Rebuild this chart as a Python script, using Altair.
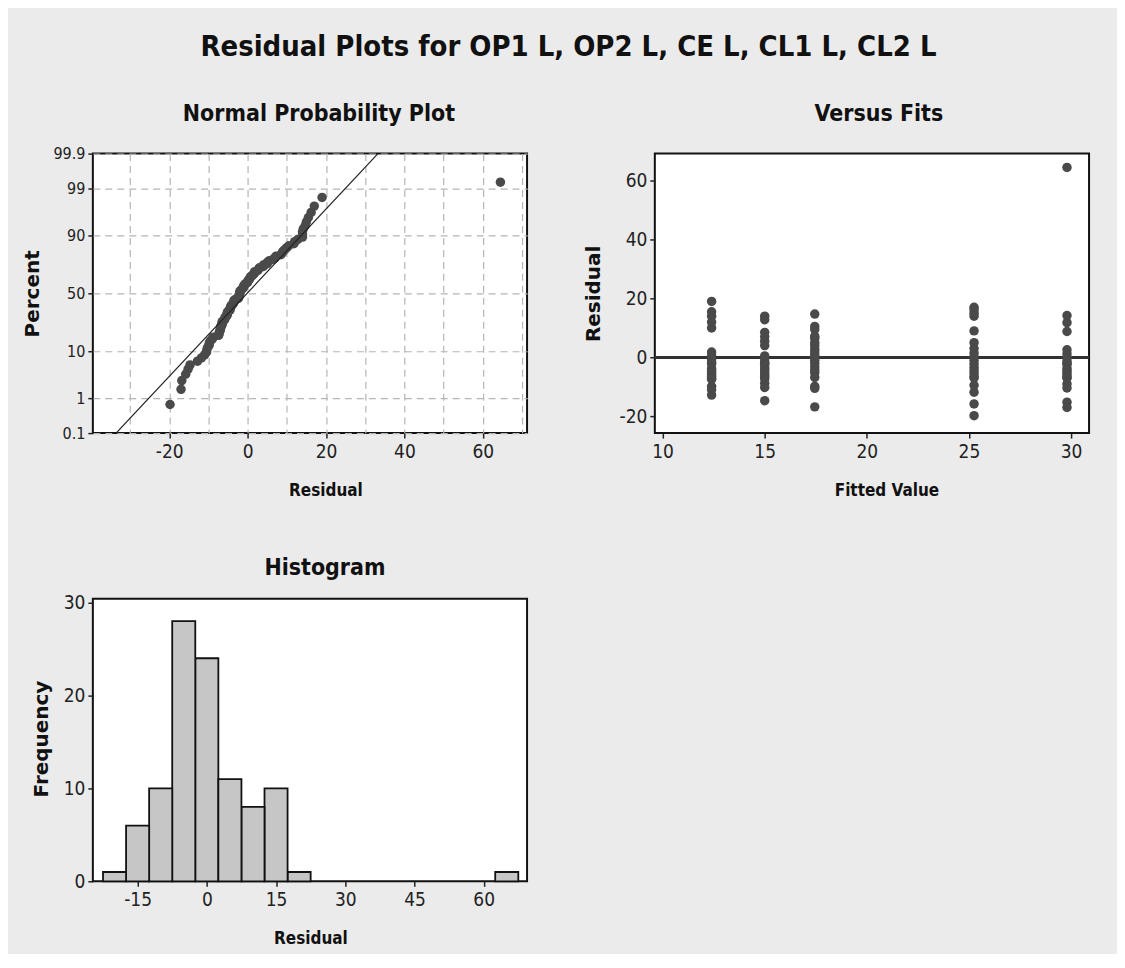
import altair as alt
import pandas as pd
from statistics import NormalDist

# ---------------- data ----------------
MAIN_TITLE = "Residual Plots for OP1 L, OP2 L, CE L, CL1 L, CL2 L"

fitted_levels = [12.4, 15.0, 17.45, 25.25, 29.8]

resid_fit1 = [19.0, 15.5, 14.0, 12.0, 10.0, 1.8, 0.6, -0.8, -1.8, -2.2,
              -3.8, -4.5, -5.2, -5.8, -6.5, -7.2, -7.4, -9.8, -11.0, -12.8]
resid_fit2 = [14.0, 12.8, 8.5, 7.0, 5.5, 4.0, 0.5, -0.5, -1.5, -2.0,
              -2.4, -3.5, -4.2, -5.0, -5.8, -6.5, -7.3, -8.8, -10.2, -14.7]
resid_fit3 = [14.7, 10.5, 9.5, 7.2, 6.5, 5.0, 4.0, 2.8, 1.8, 0.8,
              0.0, -1.0, -2.0, -3.2, -4.2, -5.2, -6.8, -9.8, -10.5, -16.8]
resid_fit4 = [17.0, 16.2, 15.0, 14.0, 9.0, 5.0, 3.0, 1.5, 0.2, -1.0,
              -2.2, -3.5, -4.5, -5.5, -6.5, -7.0, -9.5, -11.8, -15.8, -19.8]
resid_fit5 = [64.5, 14.2, 11.8, 8.8, 2.6, 1.2, 0.0, -1.2, -2.0, -2.3,
              -3.6, -4.4, -5.2, -6.0, -6.8, -7.0, -9.0, -10.4, -15.2, -17.0]

percent_ticks = [0.1, 1, 10, 50, 90, 99, 99.9]
npp_x_grid = [-30, -20, -10, 0, 10, 20, 30, 40, 50, 60, 70]
fits_x_ticks = [10, 15, 20, 25, 30]
fits_y_ticks = [-20, 0, 20, 40, 60]
hist_x_ticks = [-15, 0, 15, 30, 45, 60]
hist_y_ticks = [0, 10, 20, 30]

groups = [resid_fit1, resid_fit2, resid_fit3, resid_fit4, resid_fit5]
rows = []
for f, g in zip(fitted_levels, groups):
    for r in g:
        rows.append({"fit": f, "resid": r})
df = pd.DataFrame(rows)

nd = NormalDist()
z_ticks = [nd.inv_cdf(p / 100.0) for p in percent_ticks]
z_lo, z_hi = z_ticks[0], z_ticks[-1]

# ---------------- styling ----------------
NARROW = "DejaVu Sans Condensed, Liberation Sans Narrow, DejaVu Sans, sans-serif"
WIDE_BOLD = "DejaVu Sans, Verdana, sans-serif"
PT_COLOR = "#4a4a4a"
W, H = 435, 280
HYPHEN = "replace(datum.label, '\u2212', '-')"


def xaxis(title, values, title_x, title_y=58, **kw):
    kw.setdefault("grid", False)
    kw.setdefault("labelExpr", HYPHEN)
    return alt.Axis(title=title, values=values, titleX=title_x, titleY=title_y,
                    titleBaseline="middle", titleFont=NARROW, titleFontSize=17,
                    titleFontWeight="bold", titleColor="#111",
                    labelFont=NARROW, labelFontSize=19, labelColor="#222",
                    labelPadding=4, tickSize=5, tickWidth=1.5, tickColor="#222",
                    domain=False, labelFlush=False, labelOverlap=False, **kw)


def yaxis(title, values, title_x, label_size=19, **kw):
    kw.setdefault("grid", False)
    kw.setdefault("labelExpr", HYPHEN)
    return alt.Axis(title=title, values=values, titleX=title_x, titleY=H / 2,
                    titleAngle=270, titleBaseline="middle", titleFont=WIDE_BOLD,
                    titleFontSize=20, titleFontWeight="bold", titleColor="#111",
                    labelFont=NARROW, labelFontSize=label_size, labelColor="#222",
                    labelPadding=3, tickSize=5, tickWidth=1.5, tickColor="#222",
                    domain=False, labelFlush=False, labelOverlap=False, **kw)


def sub_title(text, dx, offset):
    return alt.TitleParams(text, font=NARROW, fontSize=23, fontWeight="bold",
                           color="#111", anchor="middle", dx=dx, offset=offset)


# ---------------- Normal probability plot ----------------
npp_x_scale = alt.Scale(domain=[-39.5, 71.3], nice=False, zero=False)
npp_y_scale = alt.Scale(domain=[z_lo, z_hi], nice=False, zero=False)
npp_x_axis = xaxis("Residual", npp_x_grid, 233, grid=True, gridDash=[7, 5],
                   gridColor="#b5b5b5", gridWidth=1.2,
                   labelExpr="datum.value % 20 == 0 ? " + HYPHEN + " : ''",
                   tickOpacity={"condition": {"test": "datum.value % 20 == 0", "value": 1},
                                "value": 0})
npp_y_axis = yaxis("Percent", z_ticks, -60, label_size=16, grid=True,
                   gridDash=[7, 5], gridColor="#b5b5b5", gridWidth=1.2,
                   labelExpr="toString(round(cumulativeNormal(datum.value) * 1000) / 10)")

npp_points = alt.Chart(df).transform_window(
    rank="row_number()", sort=[alt.SortField("resid", order="ascending")]
).transform_joinaggregate(
    n="count()"
).transform_calculate(
    z="quantileNormal((datum.rank - 0.3) / (datum.n + 0.4))"
).mark_circle(size=90, color=PT_COLOR, opacity=1).encode(
    x=alt.X("resid:Q", scale=npp_x_scale, axis=npp_x_axis),
    y=alt.Y("z:Q", scale=npp_y_scale, axis=npp_y_axis),
)

npp_line = alt.Chart(df).transform_aggregate(
    m="mean(resid)", s="stdev(resid)"
).transform_calculate(
    zlo=f"quantileNormal({percent_ticks[0] / 100.0})",
    zhi=f"quantileNormal({percent_ticks[-1] / 100.0})",
).transform_fold(
    ["zlo", "zhi"], as_=["end", "zz"]
).transform_calculate(
    xx="datum.m + datum.s * datum.zz"
).mark_line(color="#222", strokeWidth=1.2, clip=True).encode(
    x=alt.X("xx:Q", scale=npp_x_scale, axis=npp_x_axis),
    y=alt.Y("zz:Q", scale=npp_y_scale, axis=npp_y_axis),
)

npp = alt.layer(npp_points, npp_line).properties(
    width=W, height=H, title=sub_title("Normal Probability Plot", 9, 20))

# ---------------- Versus fits ----------------
vf_x_scale = alt.Scale(domain=[9.62, 30.88], nice=False, zero=False)
vf_y_scale = alt.Scale(domain=[-25.7, 69.2], nice=False, zero=False)
vf_points = alt.Chart(df).mark_circle(size=90, color=PT_COLOR, opacity=1).encode(
    x=alt.X("fit:Q", scale=vf_x_scale, axis=xaxis("Fitted Value", fits_x_ticks, 232)),
    y=alt.Y("resid:Q", scale=vf_y_scale, axis=yaxis("Residual", fits_y_ticks, -61)),
)
vf_zero = alt.Chart(df).mark_rule(color="#333", strokeWidth=2).encode(
    y=alt.datum(0, scale=vf_y_scale)
)
vf = alt.layer(vf_zero, vf_points).properties(
    width=W, height=H, title=sub_title("Versus Fits", 7, 28))

# ---------------- Histogram ----------------
hist = alt.Chart(df).transform_bin(
    as_="b", field="resid", bin=alt.Bin(step=5, extent=[-22.5, 67.5], nice=False)
).transform_aggregate(
    count="count()", groupby=["b", "b_end"]
).mark_bar(fill="#c6c6c6", stroke="#111", strokeWidth=1.8).encode(
    x=alt.X("b:Q", scale=alt.Scale(domain=[-24.7, 69.4], nice=False, zero=False),
            axis=xaxis("Residual", hist_x_ticks, 218, title_y=57)),
    x2="b_end:Q",
    y=alt.Y("count:Q", scale=alt.Scale(domain=[0, 30.4], nice=False),
            axis=yaxis("Frequency", hist_y_ticks, -51)),
    y2=alt.datum(0),
).properties(width=W, height=283, title=sub_title("Histogram", 15, 14))

top = alt.hconcat(npp, vf, spacing=128, bounds="flush")
chart = alt.vconcat(top, hist, spacing=446, bounds="flush").properties(
    title=alt.TitleParams(MAIN_TITLE, font=NARROW, fontSize=29, fontWeight="bold",
                          color="#111", anchor="middle", dx=12, offset=40),
    padding={"left": 14, "top": 24, "right": 26, "bottom": 6},
).configure(
    background="#ebebeb",
).configure_view(
    fill="white", stroke="#111", strokeWidth=2
)

chart.save("out.html", embed_options={"renderer": "svg", "actions": False})
